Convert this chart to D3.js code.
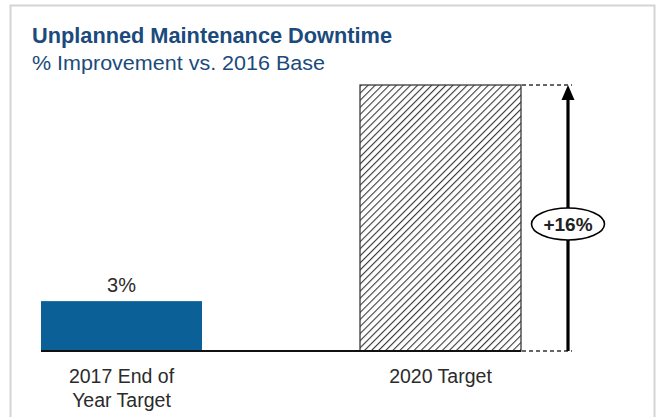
<!DOCTYPE html>
<html>
<head>
<meta charset="utf-8">
<script src="https://cdn.jsdelivr.net/npm/d3@7"></script>
<style>
  html, body { margin: 0; padding: 0; background: #fff; }
  svg { display: block; font-family: "Liberation Sans", Arial, sans-serif; }
</style>
</head>
<body>
<svg id="chart" width="656" height="417"></svg>
<script>
// Unplanned maintenance downtime targets (% improvement vs. 2016 base)
const categories = ["2017 End of Year Target", "2020 Target"];
const categoryLines = [["2017 End of", "Year Target"], ["2020 Target"]];
const values = [3, 16];
const valueLabels = ["3%", null];
const deltaLabel = "+16%";
const title = "Unplanned Maintenance Downtime";
const subtitle = "% Improvement vs. 2016 Base";

const svg = d3.select("#chart");
const W = 656, H = 417;
const navy = "#1b4a7c";
const blue = "#0a6097";
const textCol = "#2b2b2b";

// frame
svg.append("rect").attr("x", 10.5).attr("y", 5.5).attr("width", W - 12).attr("height", H - 4)
  .attr("fill", "#fff").attr("stroke", "#d4d4d4").attr("stroke-width", 2);

// hatch pattern for the target bar
const defs = svg.append("defs");
const pat = defs.append("pattern").attr("id", "hatch").attr("patternUnits", "userSpaceOnUse")
  .attr("width", 5).attr("height", 5).attr("patternTransform", "rotate(45)");
pat.append("rect").attr("width", 5).attr("height", 5).attr("fill", "#fff");
pat.append("line").attr("x1", 0).attr("y1", 0).attr("x2", 0).attr("y2", 5)
  .attr("stroke", "#3a3a3a").attr("stroke-width", 2.2);

// bars sit at the two ends of the baseline
const x = d3.scalePoint().domain(categories).range([41, 521 - 161]);
const barW = 161;
const y = d3.scaleLinear().domain([0, 16]).range([351, 85]);

// title
svg.append("text").attr("x", 32).attr("y", 43).attr("fill", navy)
  .attr("font-size", 21.5).attr("font-weight", "bold").attr("textLength", 360)
  .attr("lengthAdjust", "spacingAndGlyphs").text(title);
svg.append("text").attr("x", 32).attr("y", 70).attr("fill", navy)
  .attr("font-size", 20.5).attr("textLength", 293)
  .attr("lengthAdjust", "spacingAndGlyphs").text(subtitle);

// bars
categories.forEach((c, i) => {
  const bx = x(c);
  const r = svg.append("rect").attr("x", bx).attr("y", y(values[i]))
    .attr("width", barW).attr("height", y(0) - y(values[i]));
  if (i === 0) r.attr("fill", blue);
  else r.attr("fill", "url(#hatch)").attr("stroke", "#3a3a3a").attr("stroke-width", 1.3);
  if (valueLabels[i]) {
    svg.append("text").attr("x", bx + barW / 2).attr("y", y(values[i]) - 9)
      .attr("text-anchor", "middle").attr("font-size", 20).attr("fill", textCol)
      .text(valueLabels[i]);
  }
  categoryLines[i].forEach((ln, j) => {
    svg.append("text").attr("x", bx + barW / 2).attr("y", 383 + j * 24)
      .attr("text-anchor", "middle").attr("font-size", 19.5).attr("fill", textCol)
      .text(ln);
  });
});

// baseline
svg.append("line").attr("x1", 41).attr("x2", 521).attr("y1", y(0)).attr("y2", y(0))
  .attr("stroke", "#111").attr("stroke-width", 2);

// difference marker
const ax = 568;
const topY = y(values[1]), botY = y(0);
[topY, botY].forEach(yy => {
  svg.append("line").attr("x1", 522).attr("x2", ax + 4).attr("y1", yy).attr("y2", yy)
    .attr("stroke", "#333").attr("stroke-width", 1.3).attr("stroke-dasharray", "4,3");
});
svg.append("line").attr("x1", ax).attr("x2", ax).attr("y1", botY).attr("y2", topY + 12)
  .attr("stroke", "#000").attr("stroke-width", 3.2);
svg.append("path")
  .attr("d", `M${ax},${topY} L${ax - 6.5},${topY + 15} L${ax + 6.5},${topY + 15} Z`)
  .attr("fill", "#000");

const ey = 224;
svg.append("ellipse").attr("cx", ax).attr("cy", ey).attr("rx", 36.5).attr("ry", 16)
  .attr("fill", "#fff").attr("stroke", "#000").attr("stroke-width", 1.6);
svg.append("text").attr("x", ax).attr("y", ey + 7).attr("text-anchor", "middle")
  .attr("font-size", 19).attr("font-weight", "bold").attr("fill", "#222").text(deltaLabel);
</script>
</body>
</html>
